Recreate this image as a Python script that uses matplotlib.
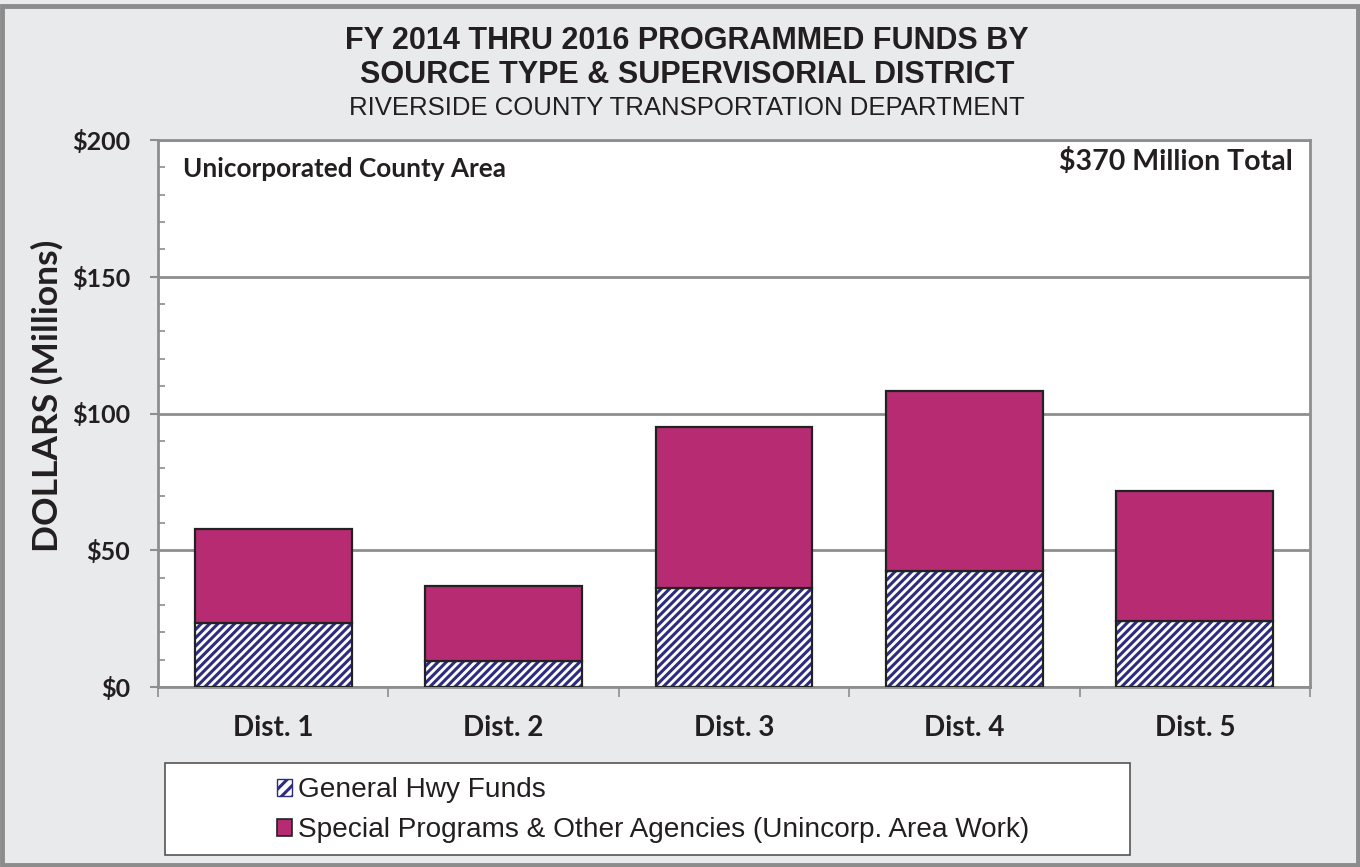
import matplotlib
matplotlib.use("Agg")
import matplotlib.pyplot as plt
from matplotlib.patches import Rectangle, Patch
from matplotlib.ticker import MultipleLocator, FuncFormatter

# ---- data ----
districts = ["Dist. 1", "Dist. 2", "Dist. 3", "Dist. 4", "Dist. 5"]
general_hwy = [23.5, 9.6, 36.1, 42.4, 24.0]
special_programs = [34.1, 27.4, 59.1, 65.7, 47.8]
series_labels = ["General Hwy Funds",
                 "Special Programs & Other Agencies (Unincorp. Area Work)"]
y_ticks = [0, 50, 100, 150, 200]

# ---- style ----
navy = "#2E2C80"
magenta = "#B72B73"
grid_gray = "#8E8E8E"
bg = "#E9EAEC"
plt.rcParams["hatch.linewidth"] = 2.2
plt.rcParams["hatch.color"] = navy

title_font = ["Liberation Sans", "DejaVu Sans"]
label_font = ["Lato", "DejaVu Sans"]
txt = "#231f20"

fig = plt.figure(figsize=(13.6, 8.67), dpi=100, facecolor=bg)
# figure border
fig.patches.append(Rectangle((0.0015, 0.002), 0.997, 0.991, transform=fig.transFigure,
                             facecolor="none", edgecolor="#8C8C8C", linewidth=3.5))

ax = fig.add_axes([158 / 1360, 1 - 687 / 867, (1310 - 158) / 1360, (687 - 140) / 867])
ax.set_facecolor("white")

x = list(range(len(districts)))
w = 0.68
ax.bar(x, general_hwy, width=w, facecolor="white", edgecolor=navy, hatch="////",
       linewidth=0, zorder=3)
ax.bar(x, general_hwy, width=w, fill=False, edgecolor="#222222", linewidth=1.6, zorder=4)
ax.bar(x, special_programs, bottom=general_hwy, width=w, facecolor=magenta,
       edgecolor="#222222", linewidth=1.6, zorder=4)

ax.set_xlim(-0.5, len(districts) - 0.5)
ax.set_ylim(0, 200)

# grid & spines
ax.yaxis.grid(True, color=grid_gray, linewidth=2, zorder=0)
ax.set_axisbelow(True)
for s in ax.spines.values():
    s.set_color(grid_gray)
    s.set_linewidth(2)

ax.set_yticks(y_ticks)
ax.yaxis.set_major_formatter(FuncFormatter(lambda v, p: f"${int(v)}"))
ax.yaxis.set_minor_locator(MultipleLocator(10))
ax.tick_params(axis="y", which="major", direction="out", length=6, width=1.5,
               color=grid_gray, pad=14, labelsize=18)
ax.tick_params(axis="y", which="minor", direction="in", length=5, width=1.2,
               color=grid_gray)
for lab in ax.get_yticklabels():
    lab.set_fontfamily(label_font)
    lab.set_fontweight("bold")
    lab.set_color(txt)

ax.set_xticks(x)
ax.set_xticklabels(districts)
ax.set_xticks([i - 0.5 for i in range(len(districts) + 1)], minor=True)
ax.tick_params(axis="x", which="major", length=0, pad=20, labelsize=20)
ax.tick_params(axis="x", which="minor", direction="out", length=7, width=1.2,
               color=grid_gray)
for lab in ax.get_xticklabels():
    lab.set_fontfamily(label_font)
    lab.set_fontweight("bold")
    lab.set_color(txt)

# in-axes annotations
ax.text(0.0217, 0.947, "Unicorporated County Area", transform=ax.transAxes,
        ha="left", va="center", fontsize=18.8, fontweight="bold", family=label_font,
        color=txt)
ax.text(0.985, 0.960, "$370 Million Total", transform=ax.transAxes,
        ha="right", va="center", fontsize=20.5, fontweight="bold", family=label_font,
        color=txt)

# titles
fig.text(687 / 1360, 1 - 41 / 867, "FY 2014 THRU 2016 PROGRAMMED FUNDS BY",
         ha="center", va="center", fontsize=22, fontweight="bold", family=title_font,
         color=txt)
fig.text(687 / 1360, 1 - 75 / 867, "SOURCE TYPE & SUPERVISORIAL DISTRICT",
         ha="center", va="center", fontsize=22, fontweight="bold", family=title_font,
         color=txt)
fig.text(687 / 1360, 1 - 108 / 867, "RIVERSIDE COUNTY TRANSPORTATION DEPARTMENT",
         ha="center", va="center", fontsize=18.5, family=title_font, color=txt)

# y label
fig.text(47 / 1360, 1 - 396 / 867, "DOLLARS (Millions)", rotation=90,
         ha="center", va="center", fontsize=25.5, fontweight="bold", family=label_font,
         color=txt)

# legend box
fig.patches.append(Rectangle((165 / 1360, 1 - 855 / 867), (1130 - 165) / 1360,
                             (855 - 763) / 867, transform=fig.transFigure,
                             facecolor="white", edgecolor="#555555", linewidth=1.2))
handles = [Patch(facecolor="white", edgecolor=navy, hatch="///", linewidth=1),
           Patch(facecolor=magenta, edgecolor="#222222", linewidth=1.2)]
leg = fig.legend(handles, series_labels, loc="upper left",
                 bbox_to_anchor=(277 / 1360, 1 - 777 / 867), frameon=False,
                 prop={"family": title_font, "size": 20.2}, handlelength=0.55,
                 handleheight=0.55, handletextpad=0.2, labelspacing=0.5,
                 borderaxespad=0, borderpad=0)
for t in leg.get_texts():
    t.set_color(txt)

fig.savefig("out.png", dpi=100, facecolor=bg)
